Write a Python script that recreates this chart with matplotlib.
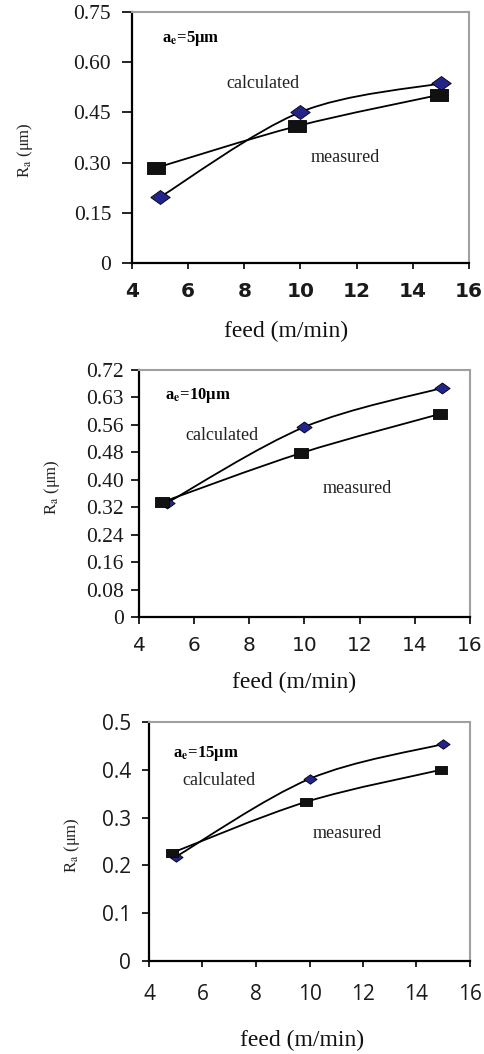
import matplotlib
matplotlib.use("Agg")
import matplotlib.pyplot as plt
from matplotlib.ticker import FixedLocator, FixedFormatter
from matplotlib.path import Path
from matplotlib.patches import PathPatch

plt.rcParams['mathtext.fontset'] = 'stix'

# ---------------- data ----------------
feed_calc = [5, 10, 15]
feed_meas = [4.85, 9.88, 14.92]

calc_5 = [0.197, 0.451, 0.537]
meas_5 = [0.284, 0.409, 0.502]

calc_10 = [0.332, 0.554, 0.668]
meas_10 = [0.335, 0.478, 0.592]

calc_15 = [0.218, 0.381, 0.454]
meas_15 = [0.226, 0.333, 0.400]

x_ticks = [4, 6, 8, 10, 12, 14, 16]
y_ticks_1 = [0, 0.15, 0.30, 0.45, 0.60, 0.75]
y_labels_1 = ['0', '0.15', '0.30', '0.45', '0.60', '0.75']
y_ticks_2 = [0, 0.08, 0.16, 0.24, 0.32, 0.40, 0.48, 0.56, 0.64, 0.72]
y_labels_2 = ['0', '0.08', '0.16', '0.24', '0.32', '0.40', '0.48', '0.56', '0.63', '0.72']
y_ticks_3 = [0, 0.1, 0.2, 0.3, 0.4, 0.5]
y_labels_3 = ['0', '0.1', '0.2', '0.3', '0.4', '0.5']
panel_tags = ['5', '10', '15']

SERIF = 'Liberation Serif'
W, H = 485, 1054
fig = plt.figure(figsize=(W / 100, H / 100), dpi=100)

def fx(px):
    return px / W

def fy(py):
    return 1 - py / H

def smooth_path(xs, ys):
    """Excel-style smoothed line: cubic Bezier through the data points."""
    pts = list(zip(xs, ys))
    n = len(pts)
    verts = [pts[0]]
    codes = [Path.MOVETO]
    for i in range(n - 1):
        p0 = pts[max(i - 1, 0)]
        p1 = pts[i]
        p2 = pts[i + 1]
        p3 = pts[min(i + 2, n - 1)]
        c1 = (p1[0] + (p2[0] - p0[0]) / 6, p1[1] + (p2[1] - p0[1]) / 6)
        c2 = (p2[0] - (p3[0] - p1[0]) / 6, p2[1] - (p3[1] - p1[1]) / 6)
        verts += [c1, c2, p2]
        codes += [Path.CURVE4] * 3
    return Path(verts, codes)

diamond = [(-1, 0), (0, 0.72), (1, 0), (0, -0.72), (-1, 0)]
rect = [(-1, -0.65), (1, -0.65), (1, 0.65), (-1, 0.65), (-1, -0.65)]

panels = [
    dict(box=(132, 12, 469, 263), calc=calc_5, meas=meas_5, ymax=0.75,
         yt=y_ticks_1, yl=y_labels_1, yfont=(SERIF, 'normal', 15.5),
         xfont=('DejaVu Sans', 'bold', 14.5), ytl=7, ypad=8, xtl=4, xpad=10,
         dsz=14, ssz=13,
         title=(5.07, 0.672), calc_pos=(8.66, 0.535), meas_pos=(11.6, 0.314),
         ylab=(25, 150), xlab=(286, 331), tag=panel_tags[0]),
    dict(box=(139, 370, 470, 617), calc=calc_10, meas=meas_10, ymax=0.72,
         yt=y_ticks_2, yl=y_labels_2, yfont=(SERIF, 'normal', 15.5),
         xfont=('DejaVu Sans', 'normal', 14.5), ytl=5.5, ypad=5.5, xtl=5, xpad=9,
         dsz=11, ssz=10,
         title=(4.94, 0.647), calc_pos=(7.0, 0.528), meas_pos=(11.93, 0.376),
         ylab=(52, 487), xlab=(294, 682), tag=panel_tags[1]),
    dict(box=(149, 722, 470, 961), calc=calc_15, meas=meas_15, ymax=0.5,
         yt=y_ticks_3, yl=y_labels_3, yfont=('Open Sans', 'normal', 15),
         xfont=('Open Sans', 'normal', 15), ytl=5, ypad=8, xtl=4.5, xpad=12,
         dsz=9.5, ssz=8.5,
         title=(4.9, 0.435), calc_pos=(6.62, 0.377), meas_pos=(11.42, 0.266),
         ylab=(72, 845), xlab=(302, 1040), tag=panel_tags[2]),
]

for p in panels:
    l, t, r, b = p['box']
    ax = fig.add_axes([fx(l), fy(b), fx(r) - fx(l), fy(t) - fy(b)])
    for xs, ys in [(feed_calc, p['calc']), (feed_meas, p['meas'])]:
        ax.add_patch(PathPatch(smooth_path(xs, ys), facecolor='none',
                               edgecolor='black', lw=1.3, zorder=2,
                               clip_on=False))
    ax.plot(feed_calc, p['calc'], linestyle='none', marker=diamond,
            markersize=p['dsz'], markerfacecolor='#23238c',
            markeredgecolor='black', markeredgewidth=0.6, zorder=3,
            clip_on=False)
    ax.plot(feed_meas, p['meas'], linestyle='none', marker=rect,
            markersize=p['ssz'], markerfacecolor='#111111',
            markeredgecolor='black', markeredgewidth=0.6, zorder=4,
            clip_on=False)
    ax.set_xlim(4, 16)
    ax.set_ylim(0, p['ymax'])
    xf, xw, xs_ = p['xfont']
    yf, yw, ys_ = p['yfont']
    ax.set_xticks(x_ticks, [str(v) for v in x_ticks], fontfamily=xf,
                  fontweight=xw, fontsize=xs_, color='#1a1a1a')
    ax.set_yticks(p['yt'], p['yl'], fontfamily=yf, fontweight=yw,
                  fontsize=ys_, color='#1a1a1a')
    for s in ['left', 'bottom']:
        ax.spines[s].set_color('black')
        ax.spines[s].set_linewidth(1.6)
    for s in ['top', 'right']:
        ax.spines[s].set_color('#a0a0a0')
        ax.spines[s].set_linewidth(1.5)
    ax.tick_params(axis='y', direction='out', length=p['ytl'], width=1.2,
                   pad=p['ypad'])
    ax.tick_params(axis='x', direction='out', length=p['xtl'], width=1.2,
                   pad=p['xpad'])

    ax.text(p['title'][0], p['title'][1], 'a$_\\mathbf{e}$=' + p['tag'] + 'μm',
            family=SERIF, fontweight='bold', fontsize=12, ha='left',
            va='center')
    ax.text(p['calc_pos'][0], p['calc_pos'][1], 'calculated', family=SERIF,
            fontsize=13, ha='center', va='center', color='#222222')
    ax.text(p['meas_pos'][0], p['meas_pos'][1], 'measured', family=SERIF,
            fontsize=13, ha='center', va='center', color='#222222')

    fig.text(fx(p['ylab'][0]), fy(p['ylab'][1]), 'R$_\\mathrm{a}$ (μm)',
             family=SERIF, fontsize=12, rotation=90, ha='center', va='center',
             color='#222222')
    fig.text(fx(p['xlab'][0]), fy(p['xlab'][1]), 'feed (m/min)',
             family=SERIF, fontsize=17, ha='center', va='center',
             color='#111111')

fig.savefig('out.png', dpi=100)
